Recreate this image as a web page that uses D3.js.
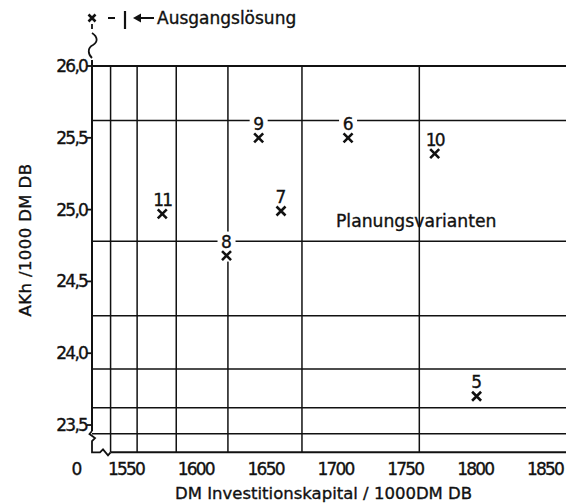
<!DOCTYPE html>
<html><head><meta charset="utf-8">
<script src="https://cdn.jsdelivr.net/npm/d3@7"></script>
<style>body{margin:0;background:#fff}svg{display:block}text{font-family:"DejaVu Sans",sans-serif;fill:#111;stroke:#111;stroke-width:0.35px}</style>
</head><body>
<script>
const xTicks=[1550,1600,1650,1700,1750,1800,1850];
const yTicks=[26.0,25.5,25.0,24.5,24.0,23.5];
const yTickLabels=["26,0","25,5","25,0","24,5","24,0","23,5"];
const variantLabels=["5","6","7","8","9","10","11"];
const variantX=[1801,1709,1661,1622,1645,1771,1576];
const variantY=[23.70,25.50,24.99,24.68,25.50,25.39,24.97];
const gridX=[1539,1558,1586,1623,1676,1760];
const gridY=[25.62,24.78,24.26,23.89,23.62,23.44];
const xTitle="DM  Investitionskapital / 1000DM  DB";
const yTitle="AKh /1000 DM  DB";
const legendText="Ausgangslösung";
const areaText="Planungsvarianten";

const W=566,H=504;
const svg=d3.select("body").append("svg").attr("width",W).attr("height",H);
const x=d3.scaleLinear().domain([1525.7,1865]).range([92,566]);
const y=d3.scaleLinear().domain([23.31,26]).range([452.3,66]);
const ink="#111";
const L=x.range()[0], R=x.range()[1], T=y(26), B=y.range()[0];

// grid
svg.append("line").attr("x1",L).attr("x2",R).attr("y1",T).attr("y2",T).attr("stroke",ink).attr("stroke-width",1.8);
svg.selectAll(".gy").data(gridY).join("line").attr("x1",L).attr("x2",R)
  .attr("y1",d=>y(d)).attr("y2",d=>y(d)).attr("stroke",ink).attr("stroke-width",1.5);
svg.selectAll(".gx").data(gridX).join("line").attr("x1",d=>x(d)).attr("x2",d=>x(d))
  .attr("y1",T).attr("y2",B).attr("stroke",ink).attr("stroke-width",1.5);

// bottom axis line
const xb=x(1539);
svg.append("line").attr("x1",xb).attr("x2",R).attr("y1",B).attr("y2",B).attr("stroke",ink).attr("stroke-width",2);
// left axis line
svg.append("line").attr("x1",L).attr("x2",L).attr("y1",T-6).attr("y2",y(23.5)+6).attr("stroke",ink).attr("stroke-width",2);
// break zigzag bottom-left
const z0=y(23.5)+6;
svg.append("path").attr("fill","none").attr("stroke",ink).attr("stroke-width",1.8)
  .attr("d",`M${L},${z0} L${L-2.5},${z0+3} L${L+3},${z0+7} L${L},${z0+10} L${L},${B} L${L+8},${B} L${L+11},${B-3} L${L+16},${B+3} L${xb},${B}`);
// break squiggle top
svg.append("path").attr("fill","none").attr("stroke",ink).attr("stroke-width",1.8)
  .attr("d",`M${L},${T-33} C${L+6},${T-29} ${L+6},${T-24} ${L+1},${T-21} C${L-5},${T-18} ${L-4},${T-12} ${L},${T-8}`);
svg.append("line").attr("x1",L).attr("x2",L).attr("y1",T-42).attr("y2",T-37).attr("stroke",ink).attr("stroke-width",1.8);

// y ticks
svg.selectAll(".yt").data(yTicks).join("line").attr("x1",L-5).attr("x2",L)
  .attr("y1",d=>y(d)).attr("y2",d=>y(d)).attr("stroke",ink).attr("stroke-width",1.8);
svg.selectAll(".ytl").data(yTicks).join("text").attr("x",L-5).attr("y",d=>y(d)+6)
  .attr("text-anchor","end").attr("font-size",17).attr("letter-spacing",-1.8).text((d,i)=>yTickLabels[i]);
// x tick labels
svg.selectAll(".xtl").data(xTicks).join("text").attr("x",d=>x(d)).attr("y",B+23)
  .attr("text-anchor","middle").attr("font-size",17).attr("letter-spacing",-1.8).text(d=>d);
svg.append("text").attr("x",L-15).attr("y",B+23).attr("text-anchor","middle").attr("font-size",17).text("0");

// titles
svg.append("text").attr("x",175).attr("y",499).attr("font-size",16.5).text(xTitle);
svg.append("text").attr("transform","translate(31,240) rotate(-90)").attr("text-anchor","middle")
  .attr("font-size",16.5).attr("letter-spacing",0.4).text(yTitle);

// legend
const lgY=T-48;
const cross=(g,cx,cy,s)=>{g.append("path").attr("d",`M${cx-s},${cy-s}L${cx+s},${cy+s}M${cx-s},${cy+s}L${cx+s},${cy-s}`)
  .attr("stroke",ink).attr("stroke-width",2.6).attr("fill","none");};
cross(svg,L,lgY,3.5);
svg.append("line").attr("x1",L+16).attr("x2",L+23).attr("y1",lgY).attr("y2",lgY).attr("stroke",ink).attr("stroke-width",2);
svg.append("line").attr("x1",L+33).attr("x2",L+33).attr("y1",lgY-7).attr("y2",lgY+11).attr("stroke",ink).attr("stroke-width",2.2);
svg.append("line").attr("x1",L+44).attr("x2",L+62).attr("y1",lgY).attr("y2",lgY).attr("stroke",ink).attr("stroke-width",2);
svg.append("path").attr("d",`M${L+41},${lgY} L${L+49},${lgY-4.5} L${L+49},${lgY+4.5}Z`).attr("fill",ink);
svg.append("text").attr("x",L+65).attr("y",lgY+6).attr("font-size",17).text(legendText);

// area text
svg.append("text").attr("x",336).attr("y",227).attr("font-size",17.2).text(areaText);

// variants
const pts=variantLabels.map((l,i)=>({l,x:variantX[i],y:variantY[i]}));
const g=svg.selectAll(".pt").data(pts).join("g");
g.append("rect").attr("x",d=>x(d.x)-(d.l.length>1?12:9)).attr("width",d=>d.l.length>1?24:18)
  .attr("y",d=>y(d.y)-24).attr("height",30).attr("fill","#fff");
g.append("text").attr("x",d=>x(d.x)).attr("y",d=>y(d.y)-8).attr("text-anchor","middle")
  .attr("font-size",17).attr("letter-spacing",d=>d.l.length>1?-1.8:0).text(d=>d.l);
g.each(function(d){cross(d3.select(this),x(d.x),y(d.y),4.5);});
</script>
</body></html>
